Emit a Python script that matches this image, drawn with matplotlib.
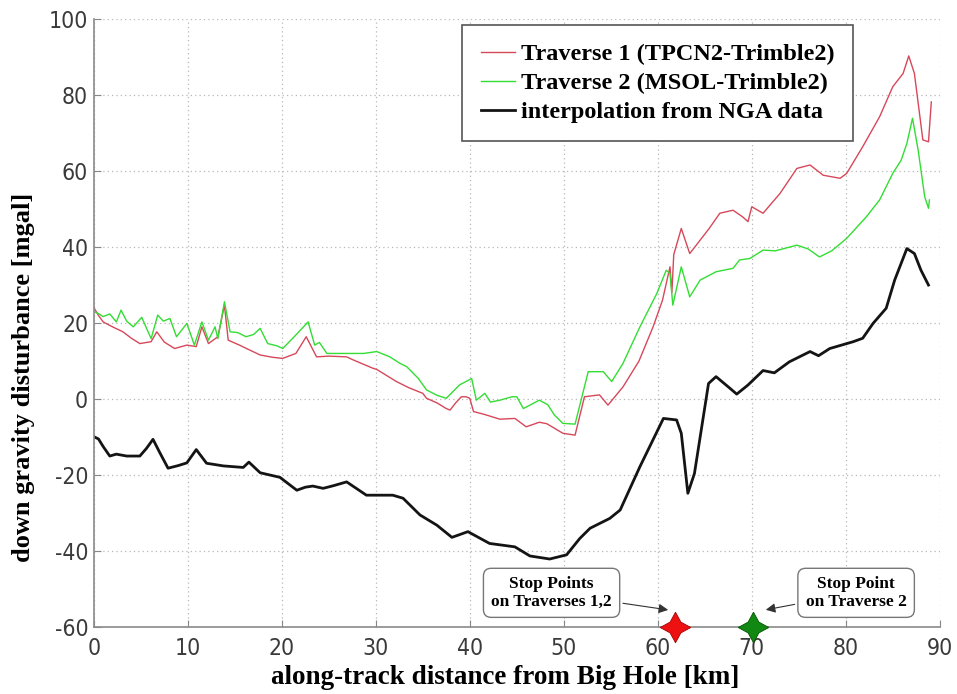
import numpy as np
import matplotlib
matplotlib.use("Agg")
from matplotlib import pyplot as plt

# Traverse 1 (TPCN2-Trimble2)
t1_km = [0, 0.5, 1.0, 2.0, 3.1, 4.0, 4.9, 6.1, 6.7, 7.5, 8.6, 9.9, 10.9, 11.5, 12.2, 13.2,
         13.9, 14.3, 15.5, 16.5, 17.7, 19.0, 20.1, 21.5, 22.6, 23.7, 25.0, 26.9, 27.6, 29.7,
         30.1, 32.2, 33.5, 35.0, 35.4, 36.5, 37.5, 37.9, 38.5, 39.1, 39.6, 40.0, 40.4, 41.5,
         43.2, 44.8, 46.0, 47.4, 48.2, 49.9, 51.2, 52.2, 53.8, 54.7, 56.3, 58.0, 59.5, 60.5,
         61.3, 61.5, 61.7, 62.5, 63.4, 64.5, 65.5, 66.6, 68.0, 69.0, 69.6, 70.0, 71.2, 73.0,
         74.8, 76.2, 77.6, 79.4, 80.1, 81.8, 83.6, 85.0, 86.1, 86.7, 87.3, 88.2, 88.8, 89.1]
t1_mgal = [24.1, 22, 20.3, 19, 17.7, 16, 14.6, 15.1, 17.7, 15, 13.3, 14.2, 13.8, 19, 14.6, 16.4,
           24.7, 15.5, 14.2, 13, 11.6, 11, 10.7, 12, 16.4, 11.1, 11.3, 11.1, 10.3, 8.1,
           7.8, 4.6, 3, 1.5, 0.2, -1, -2.5, -2.9, -1, 0.6, 0.6, 0.2, -3.3, -4,
           -5.3, -5.1, -7.3, -6.1, -6.5, -9, -9.5, 0.6, 1.1, -1.6, 3.2, 10, 19, 26,
           34.8, 28, 38, 44.9, 38.3, 41.8, 45, 48.9, 49.7, 48, 46.7, 50.6, 48.9, 54.1,
           60.7, 61.6, 58.9, 58.1, 59.4, 66.4, 74.3, 82.2, 85.7, 90.3, 85.7, 68.2, 67.7, 78.2]

# Traverse 2 (MSOL-Trimble2)
t2_km = [0, 0.5, 1.0, 1.7, 2.4, 2.9, 3.5, 4.2, 5.1, 6.1, 6.8, 7.4, 8.1, 8.8, 9.9, 10.7,
         11.5, 12.2, 12.9, 13.2, 13.9, 14.5, 15.3, 16.2, 17.0, 17.7, 18.5, 19.5, 20.1, 21.4,
         22.8, 23.5, 24.0, 24.8, 27.2, 28.7, 30.1, 31.5, 32.5, 33.3, 34.5, 35.4, 36.5, 37.5,
         38.9, 40.2, 40.7, 41.6, 42.2, 43.2, 44.5, 45.0, 45.7, 47.4, 48.3, 49.0, 49.9, 51.2,
         52.6, 54.2, 55.1, 56.3, 58.1, 59.9, 60.9, 61.3, 61.6, 62.5, 63.4, 64.5, 66.2, 68.0,
         68.7, 69.8, 71.2, 72.5, 74.8, 76.0, 77.2, 78.5, 80.1, 82.2, 83.6, 85.0, 85.9, 86.5,
         87.1, 87.7, 88.4, 88.8, 88.9]
t2_mgal = [23, 22.5, 21.7, 22.4, 20.3, 23.4, 20.5, 19, 21.5, 15.9, 22.1, 20.5, 21.2, 16.4, 19.9, 14.2,
           20.3, 15.5, 19, 15.9, 25.6, 17.7, 17.5, 16.4, 17, 18.6, 14.6, 14, 13.3, 16.6,
           20.3, 14.2, 14.9, 12, 12, 12, 12.5, 11.1, 9.5, 8.5, 5.5, 2.4, 1, 0.2,
           3.7, 5.4, -0.3, 1.5, -0.8, -0.3, 0.6, 0.6, -2.5, -0.3, -1.5, -4.2, -6.4, -6.6,
           7.2, 7.2, 4.6, 9.4, 19, 27.8, 33.9, 33, 24.7, 34.8, 26.9, 31.3, 33.5, 34.4,
           36.6, 37, 39.2, 39, 40.5, 39.5, 37.4, 39, 42.3, 48, 52.4, 59.4, 62.9, 67.3,
           73.9, 65.5, 53.2, 50.2, 52.4]

# interpolation from NGA data
nga_km = [0, 0.5, 1.0, 1.7, 2.4, 3.5, 4.9, 5.6, 6.3, 7.0, 7.9, 9.0, 9.9, 10.9, 12.0, 13.8,
          15.9, 16.5, 17.7, 19.8, 21.6, 22.5, 23.3, 24.4, 25.5, 26.9, 29.0, 31.8, 32.9, 34.7,
          36.5, 38.1, 39.8, 42.1, 44.8, 46.4, 48.5, 50.3, 51.7, 52.8, 54.9, 56.0, 58.1, 60.6,
          62.0, 62.5, 63.2, 63.9, 65.4, 66.2, 67.5, 68.4, 69.6, 71.2, 72.4, 74.0, 76.2, 77.1,
          78.3, 80.8, 81.8, 82.9, 84.3, 85.2, 86.5, 87.3, 88.0, 88.8]
nga_mgal = [-9.9, -10.5, -12.5, -15, -14.5, -15, -15, -13, -10.6, -14, -18.2, -17.5, -16.8, -13.3, -16.9, -17.6,
            -18, -16.6, -19.4, -20.6, -24, -23.2, -22.9, -23.5, -22.8, -21.8, -25.3, -25.3, -26.1, -30.5,
            -33.2, -36.4, -34.9, -38, -38.9, -41.3, -42.1, -41, -36.7, -34, -31.4, -29.2, -17.8, -5.1,
            -5.5, -9, -24.8, -19.6, 4.1, 5.9, 3.2, 1.3, 3.7, 7.5, 6.9, 9.8, 12.5, 11.4,
            13.3, 15.1, 16, 19.9, 23.9, 31.3, 39.6, 38.3, 33.9, 30]

# stop points (km along track)
stop_t12 = 61.8
stop_t2 = 70.1

plt.rcParams['axes.unicode_minus'] = False
serif = ['Liberation Serif', 'DejaVu Serif']

fig = plt.figure(figsize=(9.57, 6.94), dpi=100)
ax = fig.add_axes([0.098, 0.0965, 0.884, 0.876])

ax.plot(t1_km, t1_mgal, color='#d6485a', lw=1.0, label='Traverse 1 (TPCN2-Trimble2)')
ax.plot(t2_km, t2_mgal, color='#33dd33', lw=1.0, label='Traverse 2 (MSOL-Trimble2)')
ax.plot(nga_km, nga_mgal, color='#141414', lw=2.0, solid_joinstyle='round',
        label='interpolation from NGA data')

# stop point markers on the bottom axis
ax.plot([stop_t12], [-60], marker=(4, 1, 0), ms=22, color='#ee1111', mec='#aa0000',
        mew=0.6, clip_on=False, zorder=5)
ax.plot([stop_t2], [-60], marker=(4, 1, 0), ms=22, color='#118811', mec='#005500',
        mew=0.6, clip_on=False, zorder=5)

box = dict(boxstyle='round,pad=0.45', fc='white', ec='#777777', lw=1.0)
arrow = dict(arrowstyle='-|>', color='#333333', lw=0.8, mutation_scale=14)
ax.annotate('Stop Points\non Traverses 1,2', xy=(61.4, -55.6), xytext=(48.7, -51),
            ha='center', va='center', fontsize=12.5, fontweight='bold', family=serif,
            bbox=box, arrowprops=arrow, linespacing=1.12)
ax.annotate('Stop Point\non Traverse 2', xy=(71.2, -55.6), xytext=(81.1, -51),
            ha='center', va='center', fontsize=12.5, fontweight='bold', family=serif,
            bbox=box, arrowprops=arrow, linespacing=1.12)

ax.set_xlim(0, 90)
ax.set_ylim(-60, 100)
ax.set_xticks(np.arange(0, 91, 10))
ax.set_yticks(np.arange(-60, 101, 20))
ax.grid(True, ls=(0, (1, 2.5)), color='#b8b8b8', lw=0.9)
ax.tick_params(direction='in', length=5, color='#888888', labelcolor='#3a3a3a',
               labelsize=16.5)
ax.tick_params(axis='x', pad=7)
ax.tick_params(axis='y', pad=4)
for lab in ax.get_xticklabels() + ax.get_yticklabels():
    lab.set_family('DejaVu Sans')
    lab.set_stretch('condensed')
for side in ['top', 'right']:
    ax.spines[side].set_visible(False)
for side in ['left', 'bottom']:
    ax.spines[side].set_color('#8a8a8a')
    ax.spines[side].set_linewidth(1.2)

ax.set_xlabel('along-track distance from Big Hole [km]', fontsize=19.5, fontweight='bold',
              family=serif)
ax.set_ylabel('down gravity disturbance [mgal]', fontsize=19, fontweight='bold',
              family=serif)
ax.xaxis.set_label_coords(0.486, -0.062)
ax.yaxis.set_label_coords(-0.069, 0.41)

leg = ax.legend(loc='upper right', bbox_to_anchor=(0.897, 0.99), fancybox=False,
                edgecolor='#555555', framealpha=1, handlelength=1.4, handletextpad=0.25,
                borderpad=0.75, labelspacing=0.28, borderaxespad=0,
                prop=dict(family=serif, weight='bold', size=17.5))
leg.get_frame().set_linewidth(1.2)

fig.savefig('out.png', dpi=100, facecolor='white')
